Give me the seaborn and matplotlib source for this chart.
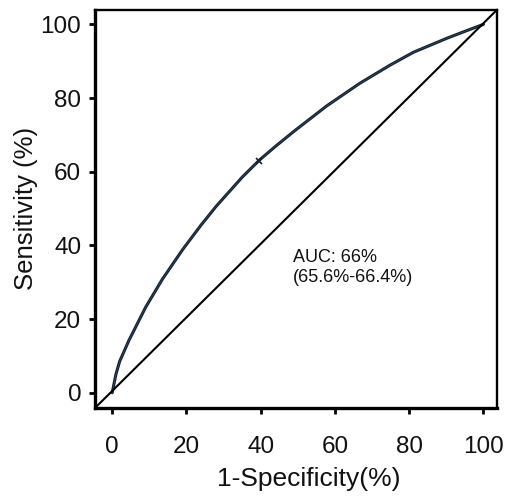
import numpy as np
import pandas as pd
import matplotlib
matplotlib.use("Agg")
import matplotlib.pyplot as plt
import seaborn as sns

# ROC curve (percent)
fpr = [0, 1.0, 2.0, 4.5, 9.0, 13.5, 19.0, 24.0, 28.0, 35.0, 39.7, 44.0,
       49.0, 57.7, 66.7, 74.8, 81.1, 90.1, 95.0, 100]
tpr = [0, 5.0, 8.5, 14.2, 23.2, 30.8, 38.9, 45.6, 50.6, 58.5, 63.2, 66.9,
       71.0, 77.8, 84.0, 88.9, 92.4, 96.2, 98.1, 100]
cut_x = [39.5]
cut_y = [63.0]
x_ticks = [0, 20, 40, 60, 80, 100]
y_ticks = [0, 20, 40, 60, 80, 100]

roc = pd.DataFrame({"fpr": fpr, "tpr": tpr})

sns.set_style("ticks")
plt.rcParams['font.family'] = ['Liberation Sans', 'DejaVu Sans']
plt.rcParams['text.color'] = '#111111'
plt.rcParams['axes.labelcolor'] = '#111111'
plt.rcParams['xtick.color'] = 'black'
plt.rcParams['ytick.color'] = 'black'
plt.rcParams['xtick.labelcolor'] = '#111111'
plt.rcParams['ytick.labelcolor'] = '#111111'

fig = plt.figure(figsize=(5.17, 4.98), dpi=100)
ax = fig.add_axes([0.184, 0.181, 0.777, 0.799])

# Curva ROC
sns.lineplot(data=roc, x="fpr", y="tpr", sort=False, estimator=None,
             color="#17202c", linewidth=2.2, ax=ax)
sns.lineplot(data=roc, x="fpr", y="tpr", sort=False, estimator=None,
             color="#3a5f8a", linewidth=0.6, alpha=0.6, ax=ax)
ax.plot(cut_x, cut_y, marker="x", markersize=5, color="#17202c", mew=1.2)

# Diagonal de canto a canto
ax.plot([0, 1], [0, 1], transform=ax.transAxes, color="black", linewidth=1.5)

ax.set_xlim(-4.6, 103.6)
ax.set_ylim(-4.1, 103.9)
ax.set_xticks(x_ticks)
ax.set_yticks(y_ticks)
ax.tick_params(labelsize=17.5, length=4, width=2, color="black")
ax.tick_params(axis="x", pad=16)
ax.tick_params(axis="y", pad=6)

ax.set_xlabel("1-Specificity(%)", fontsize=19, labelpad=7)
ax.xaxis.label.set_x(0.532)
ax.set_ylabel("Sensitivity (%)", fontsize=18.5, labelpad=2)

for side in ["left", "bottom"]:
    ax.spines[side].set_linewidth(2.4)
for side in ["top", "right"]:
    ax.spines[side].set_linewidth(1.7)
for s in ax.spines.values():
    s.set_color("black")
    s.set_visible(True)

ax.text(48.6, 39.0, "AUC: 66%\n(65.6%-66.4%)", fontsize=13, ha="left",
        va="top", linespacing=1.25)

plt.savefig("out.png", dpi=100)
